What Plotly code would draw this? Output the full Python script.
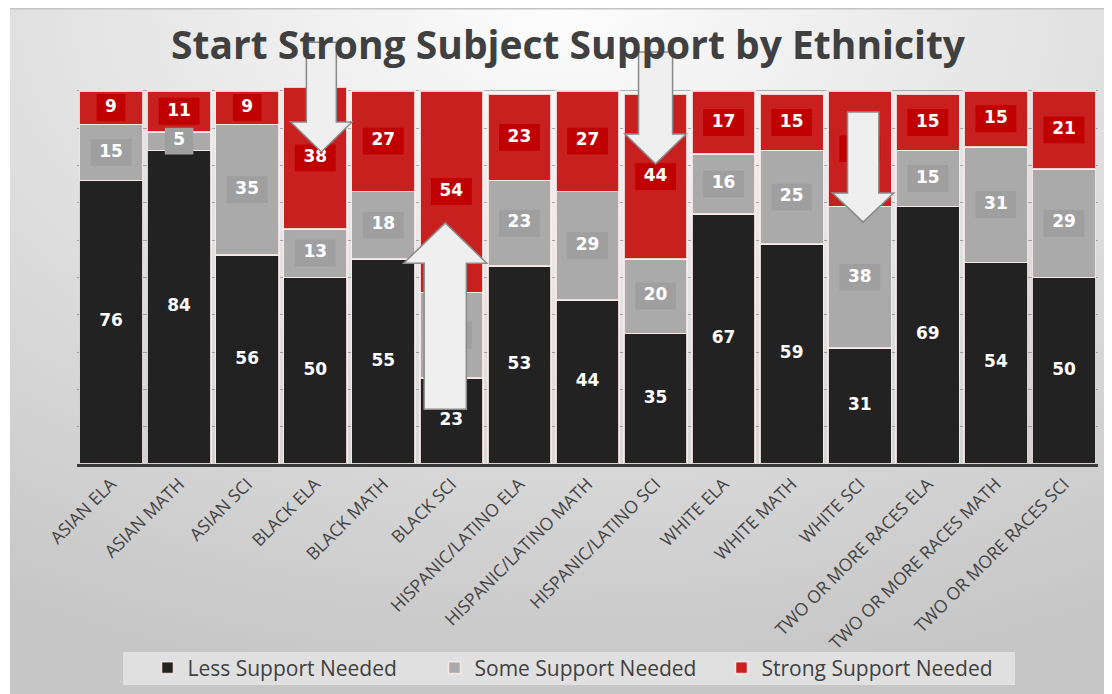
import base64
import plotly.graph_objects as go

# ---------------- data ----------------
categories = ["ASIAN ELA", "ASIAN MATH", "ASIAN SCI", "BLACK ELA", "BLACK MATH", "BLACK SCI",
              "HISPANIC/LATINO ELA", "HISPANIC/LATINO MATH", "HISPANIC/LATINO SCI",
              "WHITE ELA", "WHITE MATH", "WHITE SCI",
              "TWO OR MORE RACES ELA", "TWO OR MORE RACES MATH", "TWO OR MORE RACES SCI"]
less_support = [76, 84, 56, 50, 55, 23, 53, 44, 35, 67, 59, 31, 69, 54, 50]
some_support = [15, 5, 35, 13, 18, 23, 23, 29, 20, 16, 25, 38, 15, 31, 29]
strong_support = [9, 11, 9, 38, 27, 54, 23, 27, 44, 17, 15, 31, 15, 15, 21]
series_names = ["Less Support Needed", "Some Support Needed", "Strong Support Needed"]

# callout arrows: (category position, half shaft width, half head width, tail value, head-base value, tip value)
callouts = [
    (3.09, 0.22, 0.45, 113.0, 91.6, 83.6),
    (8.00, 0.25, 0.45, 110.4, 88.4, 80.4),
    (11.05, 0.23, 0.45, 94.3, 72.6, 64.8),
    (4.91, 0.31, 0.61, 14.7, 53.8, 64.6),
]

# ---------------- style ----------------
BAR_COLORS = ["#222222", "#aaaaaa", "#c8201f"]
BOX_COLORS = [None, "#9f9f9f", "#c00000"]
Y_MAX = 101
N = len(categories)
OFF = 8                      # page body margin
W, H = 1112 - OFF, 694 - OFF
ML, MR, MT, MB = 69, 14, 79, 230
PW, PH = W - ML - MR, H - MT - MB


def px_x(px):   # window pixel -> paper x
    return (px - OFF - ML) / PW


def px_y(py):   # window pixel -> paper y
    return (PH + MT - (py - OFF)) / PH


xs = list(range(N))
series = [less_support, some_support, strong_support]

fig = go.Figure()

for name, vals, col in zip(series_names, series, BAR_COLORS):
    fig.add_trace(go.Bar(
        x=xs, y=vals, name=name,
        marker=dict(color=col, line=dict(color="rgba(255,235,235,0.85)", width=1.6)),
        hoverinfo="skip",
    ))

# data labels (boxes + text), centred on each stacked segment
base = [0] * N
HALF_H = 3.6
for k, vals in enumerate(series):
    mids = [b + v / 2 for b, v in zip(base, vals)]
    if BOX_COLORS[k]:
        bx, by = [], []
        for i, (m, v) in enumerate(zip(mids, vals)):
            hw = 0.21 if len(str(v)) == 1 else 0.30
            bx += [i - hw, i + hw, i + hw, i - hw, i - hw, None]
            by += [m - HALF_H, m - HALF_H, m + HALF_H, m + HALF_H, m - HALF_H, None]
        fig.add_trace(go.Scatter(x=bx, y=by, mode="lines", fill="toself",
                                 fillcolor=BOX_COLORS[k], line=dict(width=0),
                                 showlegend=False, hoverinfo="skip"))
    fig.add_trace(go.Scatter(
        x=xs, y=mids, mode="text", text=[str(v) for v in vals],
        textposition="middle center",
        textfont=dict(family="DejaVu Sans", size=17, color="white", weight="bold"),
        showlegend=False, hoverinfo="skip", cliponaxis=False,
    ))
    base = [b + v for b, v in zip(base, vals)]


def xd(x):
    return (x + 0.5) / N


def yd(y):
    return y / Y_MAX


shapes = []
# legend box
shapes.append(dict(type="rect", xref="paper", yref="paper",
                   x0=px_x(123), x1=px_x(1015), y0=px_y(685), y1=px_y(652),
                   fillcolor="rgba(232,232,232,0.75)", line=dict(width=0), layer="below"))
# frame top line
shapes.append(dict(type="line", xref="paper", yref="paper",
                   x0=px_x(10), x1=px_x(1112), y0=px_y(8.7), y1=px_y(8.7),
                   line=dict(color="#c4c4c4", width=1.5), layer="below"))

for cx, sw, hw, tail, hb, tip in callouts:
    pts = [(cx - sw, tail), (cx + sw, tail), (cx + sw, hb), (cx + hw, hb),
           (cx, tip), (cx - hw, hb), (cx - sw, hb)]
    path = "M " + " L ".join(f"{xd(px):.5f} {yd(py):.5f}" for px, py in pts) + " Z"
    shapes.append(dict(type="path", xref="x domain", yref="y domain", path=path,
                       fillcolor="#efefef", line=dict(color="#8a8a8a", width=1.5),
                       layer="above"))

# gradient background
svg = ('<svg xmlns="http://www.w3.org/2000/svg" width="1102" height="686" '
       'viewBox="0 0 1102 686" preserveAspectRatio="none"><defs>'
       '<radialGradient id="g" cx="0.5" cy="0" r="1" gradientUnits="objectBoundingBox">'
       '<stop offset="0" stop-color="#fdfdfd"/><stop offset="0.45" stop-color="#e3e3e3"/>'
       '<stop offset="1" stop-color="#c6c6c6"/></radialGradient></defs>'
       '<rect width="1102" height="686" fill="url(#g)"/></svg>')
src = "data:image/svg+xml;base64," + base64.b64encode(svg.encode()).decode()

fig.update_layout(
    width=W, height=H,
    margin=dict(l=ML, r=MR, t=MT, b=MB, autoexpand=False),
    barmode="stack", bargap=0.07,
    paper_bgcolor="white", plot_bgcolor="rgba(0,0,0,0)",
    title=dict(text="<b>Start Strong Subject Support by Ethnicity</b>",
               font=dict(family="Open Sans", size=39, color="#404040"),
               x=(568 - OFF) / W, xanchor="center", xref="container",
               y=1 - (45 - OFF) / H, yanchor="middle", yref="container"),
    xaxis=dict(range=[-0.5, N - 0.5], tickmode="array", tickvals=xs, ticktext=categories,
               tickangle=-45, tickfont=dict(family="Open Sans", size=17.5, color="#444444"),
               showline=True, linecolor="#3a3a3a", linewidth=3, showgrid=False,
               ticks="", layer="above traces", fixedrange=True),
    yaxis=dict(range=[0, Y_MAX], dtick=10, showticklabels=False, showgrid=True,
               gridcolor="rgba(50,50,50,0.35)", gridwidth=1, zeroline=False,
               layer="above traces", fixedrange=True),
    legend=dict(orientation="h", x=px_x(578), xanchor="center",
                y=px_y(668), yanchor="middle", entrywidth=242, entrywidthmode="pixels",
                bgcolor="rgba(0,0,0,0)", font=dict(family="Open Sans", size=21, color="#404040"),
                traceorder="normal"),
    shapes=shapes,
    images=[dict(source=src, xref="paper", yref="paper",
                 x=px_x(10), y=px_y(8),
                 sizex=(1112 - 10) / PW, sizey=(694 - 8) / PH,
                 xanchor="left", yanchor="top", sizing="stretch", layer="below")],
)

fig.write_html("out.html")
